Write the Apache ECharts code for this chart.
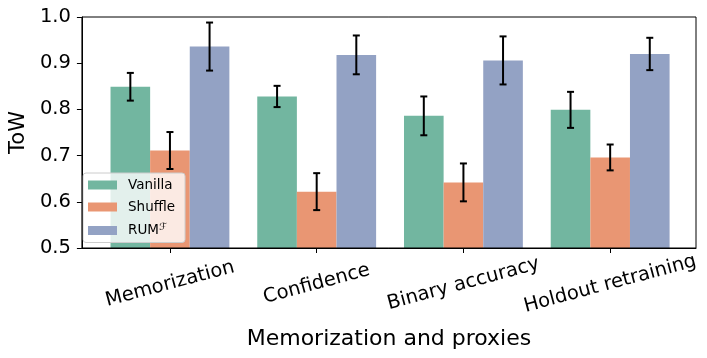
<!DOCTYPE html>
<html>
<head>
<meta charset="utf-8">
<script src="https://cdn.jsdelivr.net/npm/echarts@6/dist/echarts.min.js"></script>
<style>
  html, body { margin: 0; padding: 0; background: #fff; }
  #chart { width: 707px; height: 358px; }
</style>
</head>
<body>
<div id="chart"></div>
<script>
// data
const categories = ['Memorization', 'Confidence', 'Binary accuracy', 'Holdout retraining']
const seriesNames = ['Vanilla', 'Shuffle', 'RUM']
const vanilla = [0.849, 0.828, 0.786, 0.799]
const shuffle = [0.711, 0.622, 0.642, 0.696]
const rum = [0.936, 0.918, 0.906, 0.920]
const vanillaErr = [0.030, 0.023, 0.042, 0.039]
const shuffleErr = [0.040, 0.040, 0.041, 0.028]
const rumErr = [0.052, 0.042, 0.052, 0.035]
const yTicks = [0.5, 0.6, 0.7, 0.8, 0.9, 1.0]

const colors = ['#72b6a0', '#e99673', '#93a2c4']
const values = [vanilla, shuffle, rum]
const errs = [vanillaErr, shuffleErr, rumErr]
const barW = 0.27
const yMin = 0.5

const chart = echarts.init(document.getElementById('chart'))
const font = 'DejaVu Sans'

function makeSeries(k) {
  const off = (k - 1) * barW
  return {
    name: seriesNames[k],
    type: 'custom',
    clip: true,
    itemStyle: { color: colors[k] },
    data: values[k].map((v, i) => [i, v, errs[k][i]]),
    renderItem: (params, api) => {
      const i = api.value(0), v = api.value(1), e = api.value(2)
      const a = api.coord([i + off - barW / 2, v])
      const b = api.coord([i + off + barW / 2, yMin])
      const top = api.coord([i + off, v + e])
      const bot = api.coord([i + off, v - e])
      const cx = top[0], cap = 3.5
      const ls = { stroke: '#000', lineWidth: 2 }
      return {
        type: 'group',
        children: [
          { type: 'rect', shape: { x: a[0], y: a[1], width: b[0] - a[0], height: b[1] - a[1] },
            style: { fill: colors[k] } },
          { type: 'line', shape: { x1: cx, y1: top[1], x2: cx, y2: bot[1] }, style: ls, z2: 10 },
          { type: 'line', shape: { x1: cx - cap, y1: top[1], x2: cx + cap, y2: top[1] }, style: ls, z2: 10 },
          { type: 'line', shape: { x1: cx - cap, y1: bot[1], x2: cx + cap, y2: bot[1] }, style: ls, z2: 10 }
        ]
      }
    }
  }
}

chart.setOption({
  animation: false,
  textStyle: { fontFamily: font, color: '#000' },
  grid: { left: 76, right: 11, top: 17, bottom: 110, show: true, borderColor: '#000', borderWidth: 1, z: 5 },
  legend: {
    orient: 'vertical', left: 83, top: 173,
    icon: 'rect', itemWidth: 29, itemHeight: 9, itemGap: 8,
    padding: [5, 10, 5, 5],
    backgroundColor: 'rgba(255,255,255,0.8)', borderColor: '#cccccc', borderWidth: 1, borderRadius: 3,
    formatter: name => name === 'RUM' ? 'RUM{sup|ℱ}' : name,
    textStyle: {
      fontFamily: font, fontSize: 13.5, color: '#000', lineHeight: 14, padding: [0, 0, 0, 6],
      rich: { sup: { fontSize: 10, fontFamily: font, fontStyle: 'italic', padding: [0, 0, 7, 0] } }
    },
    data: seriesNames
  },
  xAxis: {
    type: 'value', min: -0.6, max: 3.585,
    name: 'Memorization and proxies', nameLocation: 'middle', nameGap: 91,
    nameTextStyle: { fontFamily: font, fontSize: 22, color: '#000', verticalAlign: 'middle' },
    axisLine: { show: true, onZero: false, lineStyle: { color: '#000', width: 1 } },
    axisTick: { show: true, customValues: [0, 1, 2, 3], length: 5, lineStyle: { color: '#000' } },
    axisLabel: {
      customValues: [0, 1, 2, 3], rotate: 15, margin: 36, align: 'center', verticalAlign: 'middle',
      fontFamily: font, fontSize: 19.5, color: '#000',
      formatter: v => categories[Math.round(v)]
    },
    splitLine: { show: false }
  },
  yAxis: {
    type: 'value', min: 0.5, max: 1.0, interval: 0.1,
    name: 'ToW', nameLocation: 'middle', nameGap: 58,
    nameTextStyle: { fontFamily: font, fontSize: 21, color: '#000', verticalAlign: 'middle' },
    axisLine: { show: true, onZero: false, lineStyle: { color: '#000', width: 1 } },
    axisTick: { show: true, length: 5, lineStyle: { color: '#000' } },
    axisLabel: { margin: 11, fontFamily: font, fontSize: 19.5, color: '#000',
      customValues: yTicks, formatter: v => v.toFixed(1) },
    splitLine: { show: false }
  },
  series: [0, 1, 2].map(makeSeries)
})
</script>
</body>
</html>
